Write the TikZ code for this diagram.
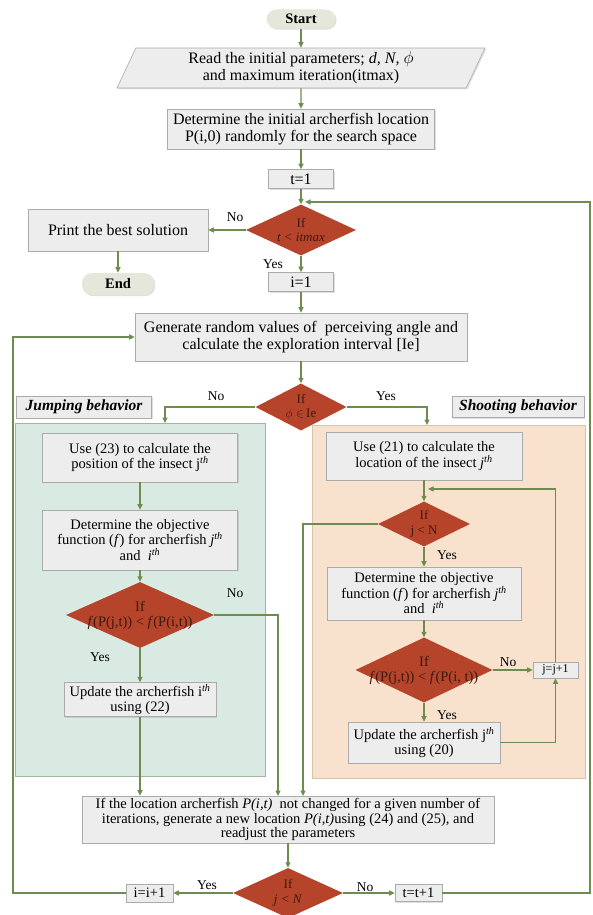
\documentclass[tikz,border=0pt]{standalone}
\usepackage{fontspec}
\setmainfont{Liberation Serif}
\usetikzlibrary{arrows.meta,shapes.geometric,shadows}
\definecolor{boxfill}{HTML}{EDEDED}
\definecolor{boxline}{HTML}{ABABAB}
\definecolor{termfill}{HTML}{E4E7DA}
\definecolor{condfill}{HTML}{B5442B}
\definecolor{condtext}{HTML}{3B1A10}
\definecolor{arrowc}{HTML}{6E8C50}
\definecolor{jumpfill}{HTML}{D8EAE2}
\definecolor{jumpline}{HTML}{A3B59E}
\definecolor{shootfill}{HTML}{F8E2CD}
\definecolor{shootline}{HTML}{D8C2A8}

\begin{document}
\begin{tikzpicture}[x=1pt,y=-1pt,
  font=\fontsize{16}{17}\selectfont,
  arr/.style={draw=arrowc,line width=1.2pt,-{Triangle[length=5.5pt,width=5pt]}},
  box/.style={draw=boxline,fill=boxfill,line width=0.6pt,align=center,inner sep=1.5pt,
    drop shadow={shadow xshift=1.2pt,shadow yshift=-1.2pt,opacity=0.25}},
  small/.style={box,font=\fontsize{14.5}{15.5}\selectfont},
  term/.style={box,draw=none,fill=termfill,rounded corners=10pt,font=\fontsize{14.5}{16}\selectfont\bfseries},
  io/.style={box,trapezium,trapezium left angle=62,trapezium right angle=118,trapezium stretches body},
  tag/.style={box,font=\fontsize{15.5}{16}\selectfont\bfseries\itshape},
  cond/.style={diamond,fill=condfill,inner sep=0pt},
  ctext/.style={text=condtext,align=center,font=\fontsize{13}{14.5}\selectfont},
  wide/.style={ctext,font=\fontsize{14.5}{15}\selectfont},
  lbl/.style={font=\fontsize{13.5}{15}\selectfont}]
\useasboundingbox (0,0) rectangle (593,915);

% panels
\node[draw=jumpline,fill=jumpfill,line width=0.8pt,minimum width=250,minimum height=353] (jpanel) at (140,599.5) {};
\node[draw=shootline,fill=shootfill,line width=0.8pt,minimum width=273,minimum height=353] (spanel) at (448.5,601.5) {};
\node[tag,minimum width=135,minimum height=22] (jtag) at (84,407) {Jumping behavior};
\node[tag,minimum width=132,minimum height=21] (stag) at (518,407) {Shooting behavior};

% main column
\node[term,minimum width=69,minimum height=19] (start) at (301,19) {Start};
\node[io,minimum width=368,minimum height=40] (read) at (301,68) {Read the initial parameters; \textit{d, N,} $\phi$\\ and maximum iteration(itmax)};
\node[box,minimum width=267,minimum height=40] (init) at (301,129) {Determine the initial archerfish location\\ P(i,0) randomly for the search space};
\node[box,minimum width=65,minimum height=19] (t1) at (301,179) {t=1};
\node[cond,minimum width=110,minimum height=51,label={[ctext]center:{If\\ \textit{t < itmax}}}] (d1) at (301,230) {};
\node[box,minimum width=180,minimum height=42] (print) at (118,230) {Print the best solution};
\node[term,minimum width=72,minimum height=22] (end) at (118,284) {End};
\node[box,minimum width=65,minimum height=19] (i1) at (301,282) {i=1};
\node[box,minimum width=332,minimum height=48] (gen) at (301,337) {Generate random values of\ \ perceiving angle and\\ calculate the exploration interval [Ie]};
\node[cond,minimum width=91,minimum height=47,label={[ctext]center:{If\\ $\phi\in$\,Ie}}] (d2) at (301,407) {};

% jumping behavior
\node[small,minimum width=195,minimum height=49] (j1) at (140,457.5) {Use (23) to calculate the\\ position of the insect j\textsuperscript{\textit{th}}};
\node[small,minimum width=195,minimum height=60] (j2) at (140,540) {Determine the objective\\ function (\textit{f}) for archerfish \textit{j}\textsuperscript{\textit{th}}\\ and\ \ \textit{i}\textsuperscript{\textit{th}}};
\node[cond,minimum width=148,minimum height=66,label={[wide]center:{If\\ \textit{f}(P(j,t)) < \textit{f}(P(i,t))}}] (dj) at (140,615) {};
\node[small,minimum width=152,minimum height=33] (j3) at (140,699.5) {Update the archerfish i\textsuperscript{\textit{th}}\\ using (22)};

% shooting behavior
\node[small,minimum width=196,minimum height=48] (s1) at (424,456) {Use (21) to calculate the\\ location of the insect \textit{j}\textsuperscript{\textit{th}}};
\node[cond,minimum width=92,minimum height=45,label={[ctext]center:{If\\ j < N}}] (ds1) at (424,524) {};
\node[small,minimum width=194,minimum height=53] (s2) at (424,593.5) {Determine the objective\\ function (\textit{f}) for archerfish \textit{j}\textsuperscript{\textit{th}}\\ and\ \ \textit{i}\textsuperscript{\textit{th}}};
\node[cond,minimum width=137,minimum height=65,label={[wide]center:{If\\ \textit{f}(P(j,t)) < \textit{f}(P(i, t))}}] (ds2) at (424,670) {};
\node[small,minimum width=45,minimum height=16,font=\fontsize{12}{13}\selectfont] (jj1) at (555.5,670) {j=j+1};
\node[small,minimum width=152,minimum height=41] (s3) at (424,742.5) {Update the archerfish j\textsuperscript{\textit{th}}\\ using (20)};

% bottom
\node[small,minimum width=412,minimum height=47,font=\fontsize{14.5}{14.5}\selectfont] (big) at (288,819.5) {If the location archerfish \textit{P(i,t)}\ \ not changed for a given number of\\ iterations, generate a new location \textit{P(i,t)}using (24) and (25), and\\ readjust the parameters};
\node[cond,minimum width=110,minimum height=50,label={[ctext]center:{If\\ \textit{j < N}}}] (dn) at (288,893) {};
\node[small,minimum width=47,minimum height=18] (ii1) at (149.5,893) {i=i+1};
\node[small,minimum width=47,minimum height=17] (tt1) at (418.5,893) {t=t+1};

\coordinate (jin) at (165,423);
\coordinate (sin) at (427,425);
\coordinate (sloop) at (428,489);
\coordinate (bin1) at (278,796);
\coordinate (bin2) at (303,796);
\coordinate (lx) at (13,600);
\coordinate (rtop) at (590,202);
\coordinate (ttop) at (305,202);

\foreach \x/\y/\t [count=\k] in {235/217/No,273/264/Yes,216/396/No,386/396/Yes,235/593/No,100/657/Yes,447/555/Yes,508/662/No,447/715/Yes,207/885/Yes,365/887/No}
  \node[lbl] (lab\k) at (\x,\y) {\t};

\draw[arr] (start) -- (read);
\draw[arr] (read) -- (init);
\draw[arr] (init) -- (t1);
\draw[arr] (t1) -- (d1);
\draw[arr] (d1) -- (print);
\draw[arr] (print) -- (end);
\draw[arr] (d1) -- (i1);
\draw[arr] (i1) -- (gen);
\draw[arr] (gen) -- (d2);
\draw[arr] (d2.west) -| (jin);
\draw[arr] (d2.east) -| (sin);
\draw[arr] (j1) -- (j2);
\draw[arr] (j2) -- (dj);
\draw[arr] (dj) -- (j3);
\draw[arr] (dj.east) -| (bin1);
\draw[arr] (j3) -- (j3 |- big.north);
\draw[arr] (s1) -- (ds1);
\draw[arr] (ds1.west) -| (bin2);
\draw[arr] (ds1) -- (s2);
\draw[arr] (s2) -- (ds2);
\draw[arr] (ds2) -- (jj1);
\draw[arr] (ds2) -- (s3);
\draw[arr] (s3) -| (jj1);
\draw[arr] (jj1) |- (sloop);
\draw[arr] (big) -- (dn);
\draw[arr] (dn) -- (ii1);
\draw[arr] (dn) -- (tt1);
\draw[arr] (ii1) -| (lx) |- (gen);
\draw[arr] (tt1) -| (rtop) -- (ttop);
\end{tikzpicture}
\end{document}
